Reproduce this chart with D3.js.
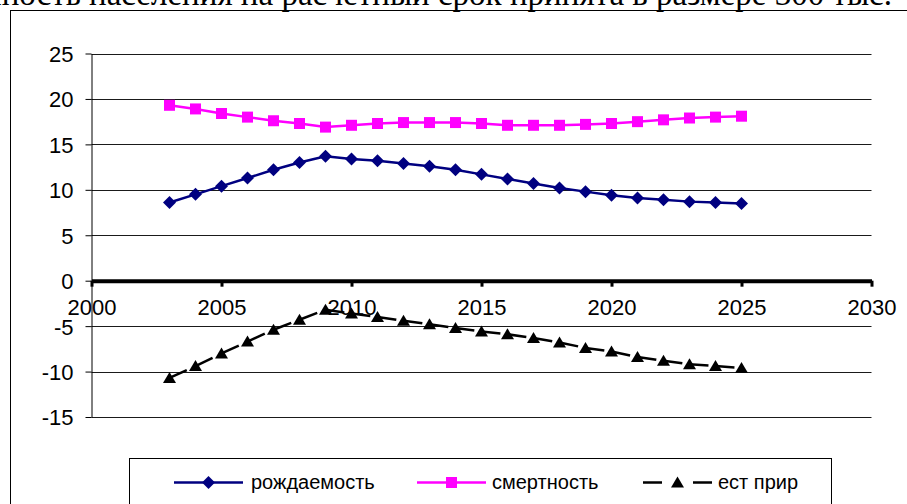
<!DOCTYPE html>
<html>
<head>
<meta charset="utf-8">
<script src="https://cdn.jsdelivr.net/npm/d3@7"></script>
<style>
  body { margin: 0; background: #fff; }
  svg { display: block; }
  text { font-family: "Liberation Sans", Arial, sans-serif; }
</style>
</head>
<body>
<div id="chart"></div>
<script>
(function() {
    "use strict";

    // data
    var years = [2003, 2004, 2005, 2006, 2007, 2008, 2009, 2010, 2011, 2012, 2013, 2014,
                 2015, 2016, 2017, 2018, 2019, 2020, 2021, 2022, 2023, 2024, 2025];
    var births = [8.6, 9.5, 10.4, 11.3, 12.2, 13.0, 13.7, 13.4, 13.2, 12.9, 12.6, 12.2,
                  11.7, 11.2, 10.7, 10.2, 9.8, 9.4, 9.1, 8.9, 8.7, 8.6, 8.5];
    var deaths = [19.3, 18.9, 18.4, 18.0, 17.6, 17.3, 16.9, 17.1, 17.3, 17.4, 17.4, 17.4,
                  17.3, 17.1, 17.1, 17.1, 17.2, 17.3, 17.5, 17.7, 17.9, 18.0, 18.1];
    var natural = [-10.7, -9.4, -8.0, -6.7, -5.4, -4.3, -3.2, -3.6, -4.0, -4.4, -4.8, -5.2,
                   -5.6, -5.9, -6.3, -6.8, -7.4, -7.8, -8.4, -8.8, -9.2, -9.4, -9.6];
    var seriesNames = ["рождаемость", "смертность", "ест прир"];
    var xTicks = [2000, 2005, 2010, 2015, 2020, 2025, 2030];
    var yTicks = [-15, -10, -5, 0, 5, 10, 15, 20, 25];

    var W = 907, H = 504;
    var svg = d3.select("#chart").append("svg")
        .attr("width", W).attr("height", H);

    // text of the page above the chart, cut by the top edge
    svg.append("text")
        .attr("x", 892).attr("y", 5)
        .attr("text-anchor", "end")
        .style("font-family", "'Liberation Serif', 'Times New Roman', serif")
        .style("font-size", "33px")
        .text("Численность населения на расчетный срок принята в размере 300 тыс.");
    svg.append("text")
        .attr("x", 901).attr("y", 5)
        .style("font-family", "'Liberation Serif', 'Times New Roman', serif")
        .style("font-size", "33px")
        .text("чел.");

    // chart frame
    svg.append("rect")
        .attr("x", 10.5).attr("y", 10.5)
        .attr("width", 1000).attr("height", 1000)
        .attr("fill", "none").attr("stroke", "#000");

    var x = d3.scaleLinear().domain([2000, 2030]).range([91.5, 871.5]);
    var y = d3.scaleLinear().domain([-15, 25]).range([417, 53.5]);

    // grid
    svg.append("g").selectAll("line").data(yTicks.filter(function(d) { return d !== 0; }))
        .enter().append("line")
        .attr("x1", x(2000)).attr("x2", x(2030))
        .attr("y1", function(d) { return Math.round(y(d)) + 0.5; })
        .attr("y2", function(d) { return Math.round(y(d)) + 0.5; })
        .attr("stroke", "#1a1a1a").attr("stroke-width", 1);

    // y axis, plain hyphen for negatives
    var yAxis = svg.append("g")
        .attr("transform", "translate(" + x(2000) + ",0)")
        .call(d3.axisLeft(y).tickValues(yTicks).tickFormat(function(d) { return String(d); })
            .tickSize(6).tickSizeOuter(0).tickPadding(12));
    yAxis.select(".domain").attr("stroke", "#000");
    yAxis.selectAll(".tick line").attr("stroke", "#000");
    yAxis.selectAll(".tick text")
        .style("font-size", "22px").attr("fill", "#000")
        .attr("dy", "0.36em");

    // x axis on the zero line
    var xAxis = svg.append("g")
        .attr("transform", "translate(0," + y(0) + ")")
        .call(d3.axisBottom(x).tickValues(xTicks).tickFormat(d3.format("d"))
            .tickSize(6).tickSizeOuter(0).tickPadding(13));
    xAxis.select(".domain").attr("stroke", "#000").attr("stroke-width", 4);
    xAxis.selectAll(".tick line").attr("stroke", "#000").attr("stroke-width", 3);
    xAxis.selectAll(".tick text")
        .style("font-size", "22px").attr("fill", "#000");

    var diamond = "M0,-6.5L6.5,0L0,6.5L-6.5,0Z";
    var square = "M-5.5,-5.5h11v11h-11Z";
    var triangle = "M0,-6L6.5,5L-6.5,5Z";

    function pts(vals) {
        return vals.map(function(v, i) { return [x(years[i]), y(v)]; });
    }
    var line = d3.line();

    // рождаемость
    var pb = pts(births);
    svg.append("path").attr("d", line(pb))
        .attr("fill", "none").attr("stroke", "#000080").attr("stroke-width", 2.5);
    svg.append("g").selectAll("path").data(pb).enter().append("path")
        .attr("d", diamond).attr("fill", "#000080")
        .attr("transform", function(p) { return "translate(" + p + ")"; });

    // смертность
    var pd = pts(deaths);
    svg.append("path").attr("d", line(pd))
        .attr("fill", "none").attr("stroke", "#ff00ff").attr("stroke-width", 2.5);
    svg.append("g").selectAll("path").data(pd).enter().append("path")
        .attr("d", square).attr("fill", "#ff00ff")
        .attr("transform", function(p) { return "translate(" + p + ")"; });

    // ест прир, dash restarts on every segment
    var pn = pts(natural);
    svg.append("g").selectAll("path").data(d3.pairs(pn)).enter().append("path")
        .attr("d", function(s) { return line(s); })
        .attr("fill", "none").attr("stroke", "#000").attr("stroke-width", 2.5)
        .attr("stroke-dasharray", "19,31");
    svg.append("g").selectAll("path").data(pn).enter().append("path")
        .attr("d", triangle).attr("fill", "#000")
        .attr("transform", function(p) { return "translate(" + p + ")"; });

    // legend
    svg.append("rect")
        .attr("x", 129.5).attr("y", 458.5)
        .attr("width", 702).attr("height", 100)
        .attr("fill", "#fff").attr("stroke", "#000");

    var legendItems = [
        { name: seriesNames[0], x0: 174, color: "#000080", marker: diamond, dash: null, tx: 251 },
        { name: seriesNames[1], x0: 417, color: "#ff00ff", marker: square, dash: null, tx: 492 },
        { name: seriesNames[2], x0: 643, color: "#000", marker: triangle, dash: "19,31", tx: 718 }
    ];
    var ly = 482.5;
    var lg = svg.append("g").selectAll("g").data(legendItems).enter().append("g");
    lg.append("line")
        .attr("x1", function(d) { return d.x0; })
        .attr("x2", function(d) { return d.x0 + 69; })
        .attr("y1", ly).attr("y2", ly)
        .attr("stroke", function(d) { return d.color; })
        .attr("stroke-width", 2.5)
        .attr("stroke-dasharray", function(d) { return d.dash; });
    lg.append("path")
        .attr("d", function(d) { return d.marker; })
        .attr("fill", function(d) { return d.color; })
        .attr("transform", function(d) { return "translate(" + (d.x0 + 34.5) + "," + ly + ")"; });
    lg.append("text")
        .attr("x", function(d) { return d.tx; })
        .attr("y", 489)
        .style("font-size", "20px")
        .attr("fill", "#000")
        .text(function(d) { return d.name; });
}());
</script>
</body>
</html>
